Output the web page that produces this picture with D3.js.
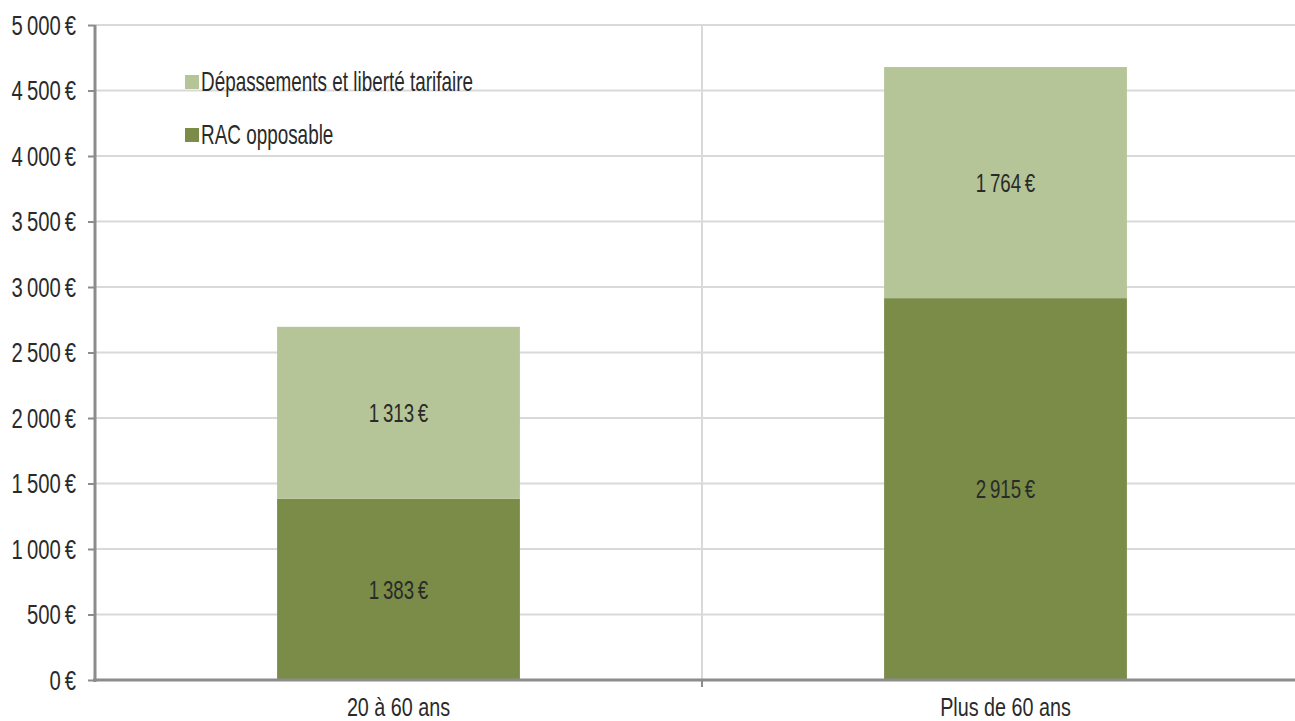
<!DOCTYPE html>
<html><head><meta charset="utf-8">
<script src="https://cdn.jsdelivr.net/npm/d3@7"></script>
<style>
html,body{margin:0;padding:0;background:#fff;}
svg{display:block;}
</style></head>
<body>
<svg id="chart" width="1295" height="721"></svg>
<script>
const categories = ["20 à 60 ans", "Plus de 60 ans"];
const seriesNames = ["RAC opposable", "Dépassements et liberté tarifaire"];
const racOpposable = [1383, 2915];
const depassements = [1313, 1764];
const yTicks = [0, 500, 1000, 1500, 2000, 2500, 3000, 3500, 4000, 4500, 5000];
const colors = ["#7a8c47", "#b5c597"];

const W = 1295, H = 721;
const mLeft = 95, mRight = 1309, mTop = 25, mBottom = 680;
const FONT = "'Liberation Sans Narrow', 'Arial Narrow', 'Liberation Sans', Arial, sans-serif";
const TXT = "#2a2a2a";

const svg = d3.select("#chart");
const x = d3.scaleBand().domain(categories).range([mLeft, mRight]).paddingInner(0.6).paddingOuter(0.3);
const y = d3.scaleLinear().domain([0, 5000]).range([mBottom, mTop]);
const loc = d3.formatLocale({decimal: ",", thousands: "\u2009", grouping: [3], currency: ["", " €"]});
const fmt = v => loc.format(",")(v) + "\u2009€";

function label(g, tx, ty, str, anchor, size, sx) {
  const gg = g.append("g").attr("transform", `translate(${tx},${ty}) scale(${sx},1)`);
  gg.append("text").attr("text-anchor", anchor).attr("dominant-baseline", "central")
    .attr("font-family", FONT).attr("font-size", size).attr("fill", TXT).text(str);
}

// horizontal gridlines
svg.append("g").selectAll("line").data(yTicks.filter(d => d > 0)).join("line")
  .attr("x1", mLeft).attr("x2", W).attr("y1", d => y(d)).attr("y2", d => y(d))
  .attr("stroke", "#d9d9d9").attr("stroke-width", 2);

// vertical category separators
const step = x.step();
const seps = [mLeft + step, mLeft + 2 * step];
svg.append("g").selectAll("line").data(seps).join("line")
  .attr("x1", d => d).attr("x2", d => d).attr("y1", mTop).attr("y2", mBottom)
  .attr("stroke", "#d9d9d9").attr("stroke-width", 2);

// stacked bars
const stackData = categories.map((c, i) => ({cat: c, rac: racOpposable[i], dep: depassements[i]}));
const stack = d3.stack().keys(["rac", "dep"])(stackData);
const layers = svg.append("g").selectAll("g").data(stack).join("g").attr("fill", (d, i) => colors[i]);
layers.selectAll("rect").data(d => d).join("rect")
  .attr("x", d => x(d.data.cat)).attr("width", x.bandwidth())
  .attr("y", d => y(d[1])).attr("height", d => y(d[0]) - y(d[1]));

// value labels
const lab = svg.append("g");
stack.forEach(layer => {
  layer.forEach(d => {
    const v = d[1] - d[0];
    label(lab, x(d.data.cat) + x.bandwidth() / 2, (y(d[0]) + y(d[1])) / 2, fmt(v), "middle", 26, 0.72);
  });
});

// y axis
const yAxis = svg.append("g").attr("transform", `translate(${mLeft},0)`)
  .call(d3.axisLeft(y).tickValues(yTicks).tickSize(7).tickFormat(""));
yAxis.select(".domain").attr("stroke", "#8c8c8c").attr("stroke-width", 3).attr("d", `M0,${mTop}V${mBottom + 2}`);
yAxis.selectAll(".tick line").attr("stroke", "#8c8c8c").attr("stroke-width", 2);
yTicks.forEach(t => label(svg, 76, y(t), fmt(t), "end", 27, 0.75));

// x axis
const xAxis = svg.append("g").attr("transform", `translate(0,${mBottom})`);
xAxis.append("line").attr("x1", mLeft - 2).attr("x2", W).attr("y1", 0).attr("y2", 0)
  .attr("stroke", "#8c8c8c").attr("stroke-width", 3);
xAxis.selectAll("line.tk").data(seps).join("line").attr("class", "tk")
  .attr("x1", d => d).attr("x2", d => d).attr("y1", 0).attr("y2", 7)
  .attr("stroke", "#8c8c8c").attr("stroke-width", 2);
categories.forEach(c => label(svg, x(c) + x.bandwidth() / 2, 707, c, "middle", 26, 0.76));

// legend
const legendItems = [{name: seriesNames[1], color: colors[1], y: 82}, {name: seriesNames[0], color: colors[0], y: 135}];
legendItems.forEach(it => {
  svg.append("rect").attr("x", 185).attr("y", it.y - 7).attr("width", 14).attr("height", 14).attr("fill", it.color);
  label(svg, 201, it.y, it.name, "start", 27, 0.7);
});
</script>
</body></html>
